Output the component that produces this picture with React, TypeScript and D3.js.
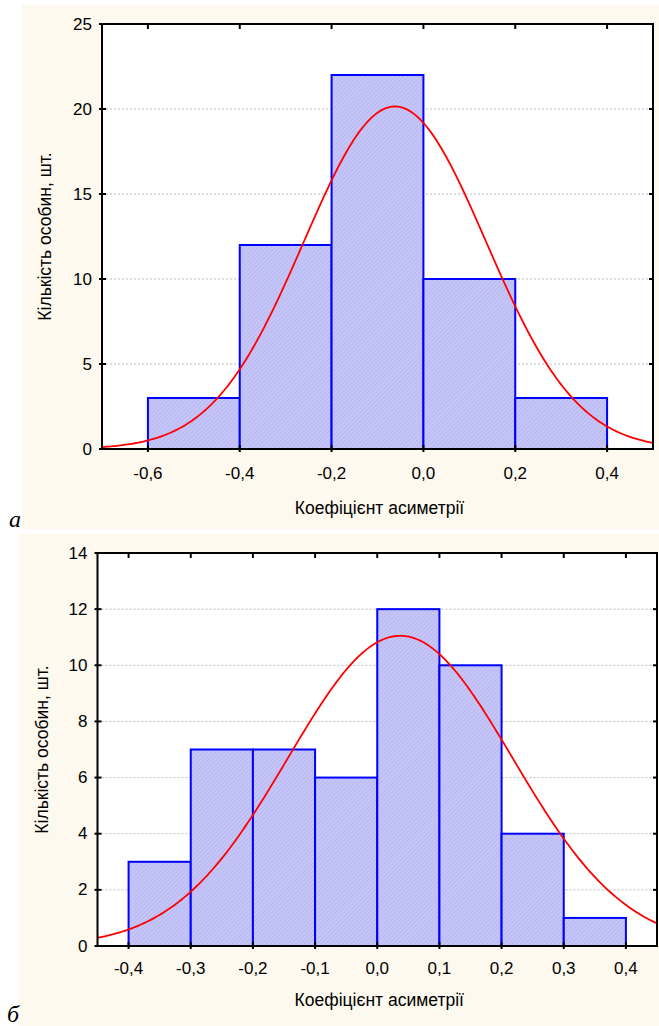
import React from "react";
import * as d3 from "d3";

// Panel a
const binsA = [-0.6, -0.4, -0.2, 0.0, 0.2, 0.4];
const countsA = [3, 12, 22, 10, 3];
const xTicksA = [-0.6, -0.4, -0.2, 0.0, 0.2, 0.4];
const yTicksA = [0, 5, 10, 15, 20, 25];
const normA = { mean: -0.062, sd: 0.198, n: 50, width: 0.2 };

// Panel б
const binsB = [-0.4, -0.3, -0.2, -0.1, 0.0, 0.1, 0.2, 0.3, 0.4];
const countsB = [3, 7, 7, 6, 12, 10, 4, 1];
const xTicksB = [-0.4, -0.3, -0.2, -0.1, 0.0, 0.1, 0.2, 0.3, 0.4];
const yTicksB = [0, 2, 4, 6, 8, 10, 12, 14];
const normB = { mean: 0.037, sd: 0.1805, n: 50, width: 0.1 };

const FONT = "Liberation Sans, Arial, sans-serif";
const FS = 17;
const FT = 17.5;
const fmt = (v: number) => v.toFixed(1).replace(".", ",");

type PanelProps = {
  id: string;
  bg: [number, number, number, number];
  plot: { x0: number; x1: number; y0: number; y1: number };
  xDomain: [number, number];
  yMax: number;
  bins: number[];
  counts: number[];
  xTicks: number[];
  yTicks: number[];
  norm: { mean: number; sd: number; n: number; width: number };
  xTitleY: number;
  xLabelY: number;
  yTitleX: number;
  letter: string;
  letterPos: [number, number];
};

function Panel(p: PanelProps) {
  const x = d3.scaleLinear().domain(p.xDomain).range([p.plot.x0, p.plot.x1]);
  const y = d3.scaleLinear().domain([0, p.yMax]).range([p.plot.y1, p.plot.y0]);
  const { mean, sd, n, width } = p.norm;
  const pdf = (v: number) =>
    (n * width) / (sd * Math.sqrt(2 * Math.PI)) * Math.exp(-((v - mean) ** 2) / (2 * sd * sd));
  const pts = d3.range(0, 301).map((i) => {
    const v = p.xDomain[0] + ((p.xDomain[1] - p.xDomain[0]) * i) / 300;
    return [v, pdf(v)] as [number, number];
  });
  const line = d3
    .line<[number, number]>()
    .x((d) => x(d[0]))
    .y((d) => y(d[1]));
  const cx = (p.plot.x0 + p.plot.x1) / 2;
  const cy = (p.plot.y0 + p.plot.y1) / 2;
  return (
    <g>
      <rect x={p.bg[0]} y={p.bg[1]} width={p.bg[2]} height={p.bg[3]} fill="#fdf9ee" />
      <rect
        x={p.plot.x0}
        y={p.plot.y0}
        width={p.plot.x1 - p.plot.x0}
        height={p.plot.y1 - p.plot.y0}
        fill="#ffffff"
      />
      <clipPath id={"clip" + p.id}>
        <rect
          x={p.plot.x0}
          y={p.plot.y0}
          width={p.plot.x1 - p.plot.x0}
          height={p.plot.y1 - p.plot.y0}
        />
      </clipPath>
      {p.yTicks.slice(1, -1).map((t) => (
        <line
          key={"g" + t}
          x1={p.plot.x0}
          x2={p.plot.x1}
          y1={y(t)}
          y2={y(t)}
          stroke="#bbbbbb"
          strokeWidth={1}
          strokeDasharray="2,2"
        />
      ))}
      {p.counts.map((c, i) => (
        <rect
          key={"b" + i}
          x={x(p.bins[i])}
          y={y(c)}
          width={x(p.bins[i + 1]) - x(p.bins[i])}
          height={y(0) - y(c)}
          fill="url(#hatch)"
          stroke="#0000ff"
          strokeWidth={2}
        />
      ))}
      <path
        d={line(pts) || ""}
        fill="none"
        stroke="#ff0000"
        strokeWidth={1.8}
        clipPath={`url(#clip${p.id})`}
      />
      <rect
        x={p.plot.x0}
        y={p.plot.y0}
        width={p.plot.x1 - p.plot.x0}
        height={p.plot.y1 - p.plot.y0}
        fill="none"
        stroke="#000"
        strokeWidth={2}
      />
      {p.xTicks.map((t) => (
        <g key={"xt" + t}>
          <line x1={x(t)} x2={x(t)} y1={p.plot.y1 - 4} y2={p.plot.y1 + 3} stroke="#000" strokeWidth={2} />
          <line x1={x(t)} x2={x(t)} y1={p.plot.y0 - 1} y2={p.plot.y0 + 5} stroke="#000" strokeWidth={2} />
          <text
            x={x(t)}
            y={p.xLabelY}
            textAnchor="middle"
            dominantBaseline="central"
            fontFamily={FONT}
            fontSize={FS}
            fill="#000"
          >
            {fmt(t)}
          </text>
        </g>
      ))}
      {p.yTicks.map((t) => (
        <g key={"yt" + t}>
          <line x1={p.plot.x0 - 3} x2={p.plot.x0 + 4} y1={y(t)} y2={y(t)} stroke="#000" strokeWidth={2} />
          <line x1={p.plot.x1 - 4} x2={p.plot.x1 + 1} y1={y(t)} y2={y(t)} stroke="#000" strokeWidth={2} />
          <text
            x={p.plot.x0 - 10}
            y={y(t)}
            textAnchor="end"
            dominantBaseline="central"
            fontFamily={FONT}
            fontSize={FS}
            fill="#000"
          >
            {t}
          </text>
        </g>
      ))}
      <text
        x={cx + 2}
        y={p.xTitleY}
        textAnchor="middle"
        dominantBaseline="central"
        fontFamily={FONT}
        fontSize={FT}
        fill="#000"
      >
        Коефіцієнт асиметрії
      </text>
      <text
        transform={`translate(${p.yTitleX},${cy}) rotate(-90)`}
        textAnchor="middle"
        dominantBaseline="central"
        fontFamily={FONT}
        fontSize={FT}
        fill="#000"
      >
        Кількість особин, шт.
      </text>
      <text
        x={p.letterPos[0]}
        y={p.letterPos[1]}
        fontFamily="Liberation Serif, Times New Roman, serif"
        fontStyle="italic"
        fontSize={24}
        fill="#000"
      >
        {p.letter}
      </text>
    </g>
  );
}

export default function App() {
  return (
    <svg
      width={659}
      height={1026}
      style={{ position: "absolute", left: 0, top: 0 }}
      xmlns="http://www.w3.org/2000/svg"
    >
      <defs>
        <pattern id="hatch" patternUnits="userSpaceOnUse" width={3} height={3} patternTransform="rotate(45)">
          <rect width={3} height={3} fill="#c6c6f8" />
          <line x1={0} y1={0} x2={0} y2={3} stroke="#a8a8ee" strokeWidth={1} />
        </pattern>
      </defs>
      <rect width={659} height={1026} fill="#ffffff" />
      <Panel
        id="a"
        bg={[22, 5, 637, 524]}
        plot={{ x0: 102, x1: 653, y0: 24, y1: 449 }}
        xDomain={[-0.7, 0.5]}
        yMax={25}
        bins={binsA}
        counts={countsA}
        xTicks={xTicksA}
        yTicks={yTicksA}
        norm={normA}
        xLabelY={473}
        xTitleY={508}
        yTitleX={45}
        letter="a"
        letterPos={[9, 527]}
      />
      <Panel
        id="b"
        bg={[18, 534, 641, 492]}
        plot={{ x0: 97.5, x1: 657, y0: 553, y1: 946 }}
        xDomain={[-0.45, 0.45]}
        yMax={14}
        bins={binsB}
        counts={countsB}
        xTicks={xTicksB}
        yTicks={yTicksB}
        norm={normB}
        xLabelY={968}
        xTitleY={1000}
        yTitleX={42}
        letter="б"
        letterPos={[7, 1022]}
      />
    </svg>
  );
}
